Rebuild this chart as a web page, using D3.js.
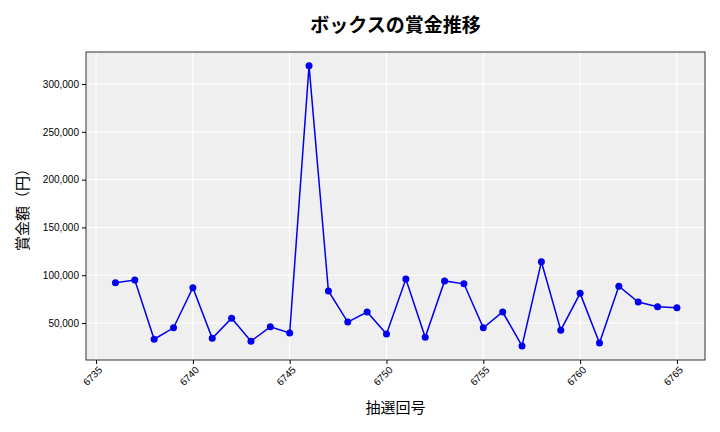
<!DOCTYPE html>
<html><head><meta charset="utf-8">
<script src="https://cdn.jsdelivr.net/npm/d3@7"></script>
<style>body{margin:0;background:#fff;font-family:"Noto Sans CJK JP","Noto Sans",sans-serif}</style>
</head><body><div id="chart"></div>
<script>
var draws = d3.range(6736, 6766);
var prizes = [92000,95000,33000,45000,87000,34000,55000,31000,46000,39500,319000,83500,51000,61500,38500,96000,35000,94000,91000,45000,61500,26000,114000,42500,81000,29000,88500,72000,67000,66000];
var xTicks = [6735,6740,6745,6750,6755,6760,6765];
var yTicks = [50000,100000,150000,200000,250000,300000];

var W = 720, H = 432, pL = 86, pR = 705, pT = 52, pB = 360;
var svg = d3.select("#chart").append("svg").attr("width", W).attr("height", H);

var x = d3.scaleLinear().domain([6734.48, 6766.45]).range([pL, pR]);
var y = d3.scaleLinear().domain([11300, 333500]).range([pB, pT]);

svg.append("rect").attr("x", pL).attr("y", pT).attr("width", pR - pL).attr("height", pB - pT)
  .attr("fill", "#efefef");

var g = svg.append("g");
g.selectAll(".vg").data(xTicks).enter().append("line")
  .attr("x1", d => x(d)).attr("x2", d => x(d)).attr("y1", pT).attr("y2", pB)
  .attr("stroke", "#fff").attr("stroke-width", 1);
g.selectAll(".hg").data(yTicks).enter().append("line")
  .attr("x1", pL).attr("x2", pR).attr("y1", d => y(d)).attr("y2", d => y(d))
  .attr("stroke", "#fff").attr("stroke-width", 1);

svg.append("rect").attr("x", pL).attr("y", pT).attr("width", pR - pL).attr("height", pB - pT)
  .attr("fill", "none").attr("stroke", "#000").attr("stroke-width", 0.8);

var xa = svg.append("g").attr("transform", "translate(0," + pB + ")")
  .call(d3.axisBottom(x).tickValues(xTicks).tickFormat(d3.format("d")).tickSize(4));
xa.select(".domain").remove();
xa.selectAll("text").attr("transform", "rotate(-45)").attr("text-anchor", "end")
  .attr("dx", "-0.3em").attr("dy", "0.5em").style("font-size", "10px");

var ya = svg.append("g").attr("transform", "translate(" + pL + ",0)")
  .call(d3.axisLeft(y).tickValues(yTicks).tickFormat(d3.format(",")).tickSize(4));
ya.select(".domain").remove();
ya.selectAll("text").style("font-size", "10px");

var line = d3.line().x((d, i) => x(draws[i])).y(d => y(d));
svg.append("path").datum(prizes).attr("d", line).attr("fill", "none")
  .attr("stroke", "#0000ee").attr("stroke-width", 1.5);
svg.selectAll(".pt").data(prizes).enter().append("circle")
  .attr("cx", (d, i) => x(draws[i])).attr("cy", d => y(d)).attr("r", 3.5).attr("fill", "#0000ee");

svg.append("text").attr("x", (pL + pR) / 2).attr("y", 32).attr("text-anchor", "middle")
  .style("font-size", "19px").style("font-weight", "bold").text("ボックスの賞金推移");
svg.append("text").attr("x", (pL + pR) / 2).attr("y", 413).attr("text-anchor", "middle")
  .style("font-size", "15px").text("抽選回号");
svg.append("text").attr("transform", "translate(28," + ((pT + pB) / 2) + ") rotate(-90)")
  .attr("text-anchor", "middle").style("font-size", "15px").text("賞金額（円）");
</script></body></html>
